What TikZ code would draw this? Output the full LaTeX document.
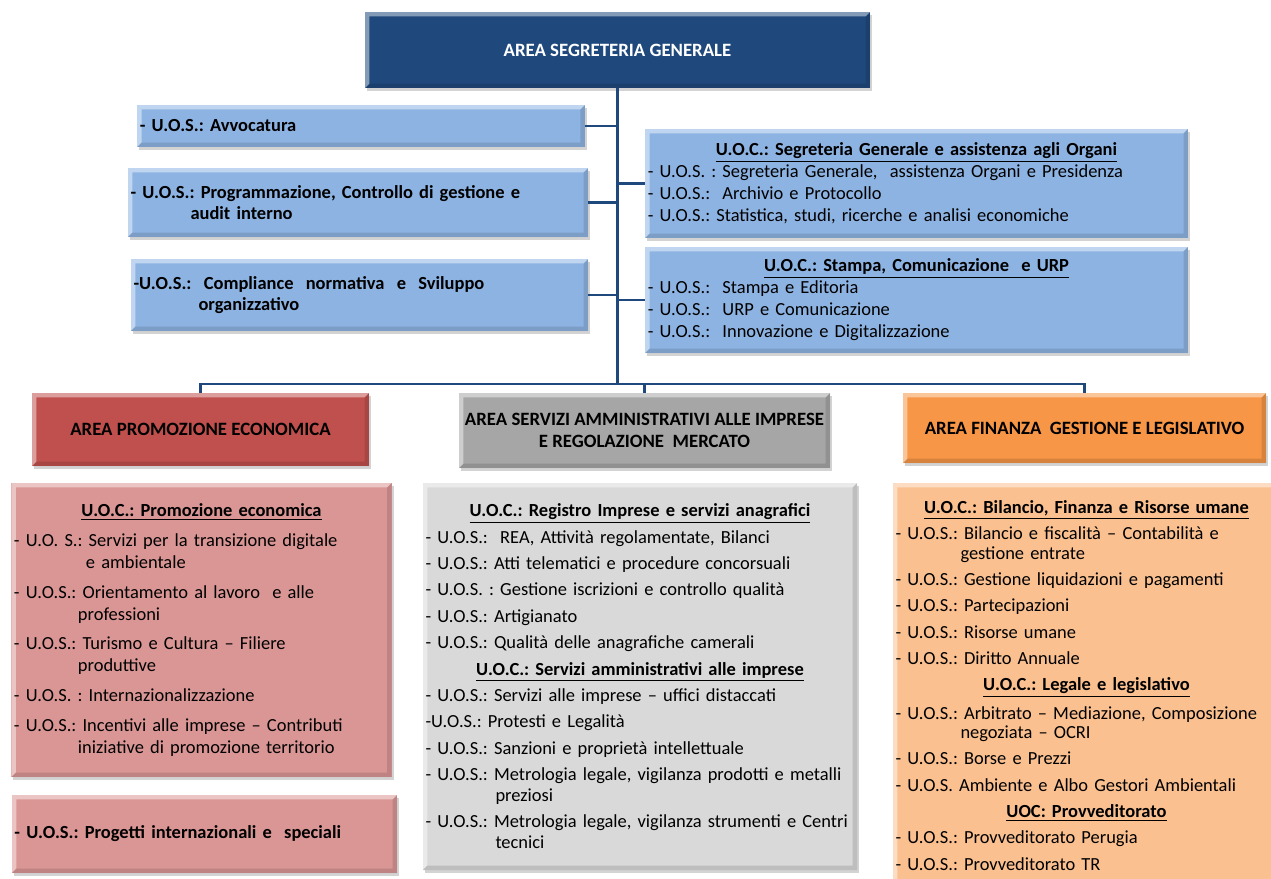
\documentclass[tikz,border=0pt]{standalone}
\usepackage{fontspec}
\setmainfont{Carlito}
\usepackage{xcolor}
\usetikzlibrary{shadows}
\frenchspacing

\definecolor{segblue}{HTML}{1F497D}
\definecolor{uosblue}{HTML}{8DB3E2}
\definecolor{areared}{HTML}{C0504D}
\definecolor{promred}{HTML}{D99694}
\definecolor{areagray}{HTML}{A6A6A6}
\definecolor{reggray}{HTML}{D9D9D9}
\definecolor{areaorange}{HTML}{F79646}
\definecolor{finorange}{HTML}{FAC090}

\newcommand{\uoctitle}[1]{{\centering\textbf{\underline{#1}}\par}}
\newcommand{\wrapin}[1]{\\\hspace*{#1}}

\tikzset{
  bevel/.style={path picture={
    \fill[white,opacity=.45] (path picture bounding box.north west) -- (path picture bounding box.north east)
      -- ++(-2.5pt,-2.5pt) -| ([shift={(2.5pt,2.5pt)}]path picture bounding box.south west)
      -- (path picture bounding box.south west) -- cycle;
    \fill[black,opacity=.12] (path picture bounding box.south west) -- (path picture bounding box.south east)
      -- (path picture bounding box.north east) -- ++(-2.5pt,-2.5pt)
      |- ([shift={(2.5pt,2.5pt)}]path picture bounding box.south west) -- cycle;
  }},
  box/.style={rectangle, inner xsep=1.5pt, inner ysep=0pt, bevel,
    drop shadow={shadow xshift=1.2pt, shadow yshift=-1.5pt, opacity=.35}},
  areabox/.style={box, align=center, font=\fontsize{10.7}{12.5}\selectfont\bfseries},
  listbox/.style={box, execute at begin node={\parindent=0pt\raggedright}},
  uosbox/.style={listbox, fill=uosblue, font=\fontsize{10.5}{12}\selectfont\bfseries},
  uocbox/.style={listbox, fill=uosblue, font=\fontsize{10.5}{12.5}\selectfont},
  link/.style={draw=segblue, line width=1.7pt},
}

\begin{document}
\begin{tikzpicture}
\useasboundingbox (0,0) rectangle (25.42,-17.58);

% area segreteria generale
\node[areabox, fill=segblue, text=white, minimum width=10.1cm, minimum height=1.52cm] (sg) at (12.35,-1.0) {AREA SEGRETERIA GENERALE};

\node[uosbox, text width=8.85cm, minimum height=0.84cm] (avv) at (7.22,-2.52) {- U.O.S.: Avvocatura};
\node[uosbox, text width=9.1cm, minimum height=1.38cm] (prog) at (7.16,-4.05)
  {- U.O.S.: Programmazione, Controllo di gestione e\wrapin{1.2cm}audit interno};
\node[uosbox, text width=9.04cm, minimum height=1.44cm] (comp) at (7.19,-5.9)
  {-U.O.S.:\ \ Compliance\ \ normativa\ \ e\ \ Sviluppo\wrapin{1.3cm}organizzativo};

\node[uocbox, text width=10.75cm, minimum height=2.18cm] (oseg) at (18.33,-3.67) {%
  \uoctitle{U.O.C.: Segreteria Generale e assistenza agli Organi}
  - U.O.S. : Segreteria Generale,\ \ assistenza Organi e Presidenza\par
  - U.O.S.:\ \ Archivio e Protocollo\par
  - U.O.S.: Statistica, studi, ricerche e analisi economiche};
\node[uocbox, text width=10.75cm, minimum height=2.12cm] (ostam) at (18.33,-6.0) {%
  \uoctitle{U.O.C.: Stampa, Comunicazione\ \ e URP}
  - U.O.S.:\ \ Stampa e Editoria\par
  - U.O.S.:\ \ URP e Comunicazione\par
  - U.O.S.:\ \ Innovazione e Digitalizzazione};

% the three areas
\node[areabox, fill=areared, minimum width=6.74cm, minimum height=1.46cm] (prom) at (4.01,-8.59) {AREA PROMOZIONE ECONOMICA};
\node[areabox, fill=areagray, minimum width=7.42cm, minimum height=1.5cm] (serv) at (12.89,-8.61)
  {AREA SERVIZI AMMINISTRATIVI ALLE IMPRESE\\E REGOLAZIONE\ \ MERCATO};
\node[areabox, fill=areaorange, minimum width=7.26cm, minimum height=1.4cm] (fin) at (21.69,-8.56) {AREA FINANZA\ \ GESTIONE E LEGISLATIVO};

% units of the areas
\node[listbox, fill=promred, text width=7.5cm, minimum height=5.88cm,
  font=\fontsize{10.5}{12.5}\selectfont\setlength{\parskip}{4.5pt}] (promuoc) at (4.03,-12.6) {%
  \uoctitle{U.O.C.: Promozione economica}
  - U.O. S.: Servizi per la transizione digitale\wrapin{1.44cm}e ambientale\par
  - U.O.S.: Orientamento al lavoro\ \ e alle\wrapin{1.28cm}professioni\par
  - U.O.S.: Turismo e Cultura -- Filiere\wrapin{1.28cm}produttive\par
  - U.O.S. : Internazionalizzazione\par
  - U.O.S.: Incentivi alle imprese -- Contributi\wrapin{1.28cm}iniziative di promozione territorio};
\node[listbox, fill=promred, text width=7.6cm, minimum height=1.56cm,
  font=\fontsize{10.5}{12}\selectfont\bfseries] (promuos) at (4.09,-16.68) {- U.O.S.: Progetti internazionali e\ \ speciali};

\node[listbox, fill=reggray, text width=8.58cm, minimum height=7.74cm,
  font=\fontsize{10.5}{12}\selectfont\setlength{\parskip}{3pt}] (servuoc) at (12.8,-13.53) {%
  \uoctitle{U.O.C.: Registro Imprese e servizi anagrafici}
  - U.O.S.:\ \ REA, Attività regolamentate, Bilanci\par
  - U.O.S.: Atti telematici e procedure concorsuali\par
  - U.O.S. : Gestione iscrizioni e controllo qualità\par
  - U.O.S.: Artigianato\par
  - U.O.S.: Qualità delle anagrafiche camerali\par
  \uoctitle{U.O.C.: Servizi amministrativi alle imprese}
  - U.O.S.: Servizi alle imprese -- uffici distaccati\par
  -U.O.S.: Protesti e Legalità\par
  - U.O.S.: Sanzioni e proprietà intellettuale\par
  - U.O.S.: Metrologia legale, vigilanza prodotti e metalli\wrapin{1.4cm}preziosi\par
  - U.O.S.: Metrologia legale, vigilanza strumenti e Centri\wrapin{1.4cm}tecnici};

\node[listbox, fill=finorange, text width=7.64cm, minimum height=8.1cm,
  font=\fontsize{10.5}{11}\selectfont\setlength{\parskip}{4pt}] (finuoc) at (21.73,-13.71) {%
  \uoctitle{U.O.C.: Bilancio, Finanza e Risorse umane}
  - U.O.S.: Bilancio e fiscalità -- Contabilità e\wrapin{1.3cm}gestione entrate\par
  - U.O.S.: Gestione liquidazioni e pagamenti\par
  - U.O.S.: Partecipazioni\par
  - U.O.S.: Risorse umane\par
  - U.O.S.: Diritto Annuale\par
  \uoctitle{U.O.C.: Legale e legislativo}
  - U.O.S.: Arbitrato -- Mediazione, Composizione\wrapin{1.3cm}negoziata -- OCRI\par
  - U.O.S.: Borse e Prezzi\par
  - U.O.S. Ambiente e Albo Gestori Ambientali\par
  \uoctitle{UOC: Provveditorato}
  - U.O.S.: Provveditorato Perugia\par
  - U.O.S.: Provveditorato TR};

% connectors
\coordinate (bus) at (sg.south |- 0,-7.68);
\draw[link] (sg.south) -- (bus);
\foreach \n in {avv,prog,comp} \draw[link] (\n.east) -- (\n.east -| bus);
\foreach \n in {oseg,ostam} \draw[link] (\n.west) -- (\n.west -| bus);
\foreach \n in {prom,serv,fin} \draw[link] (bus) -| (\n.north);
\end{tikzpicture}
\end{document}
